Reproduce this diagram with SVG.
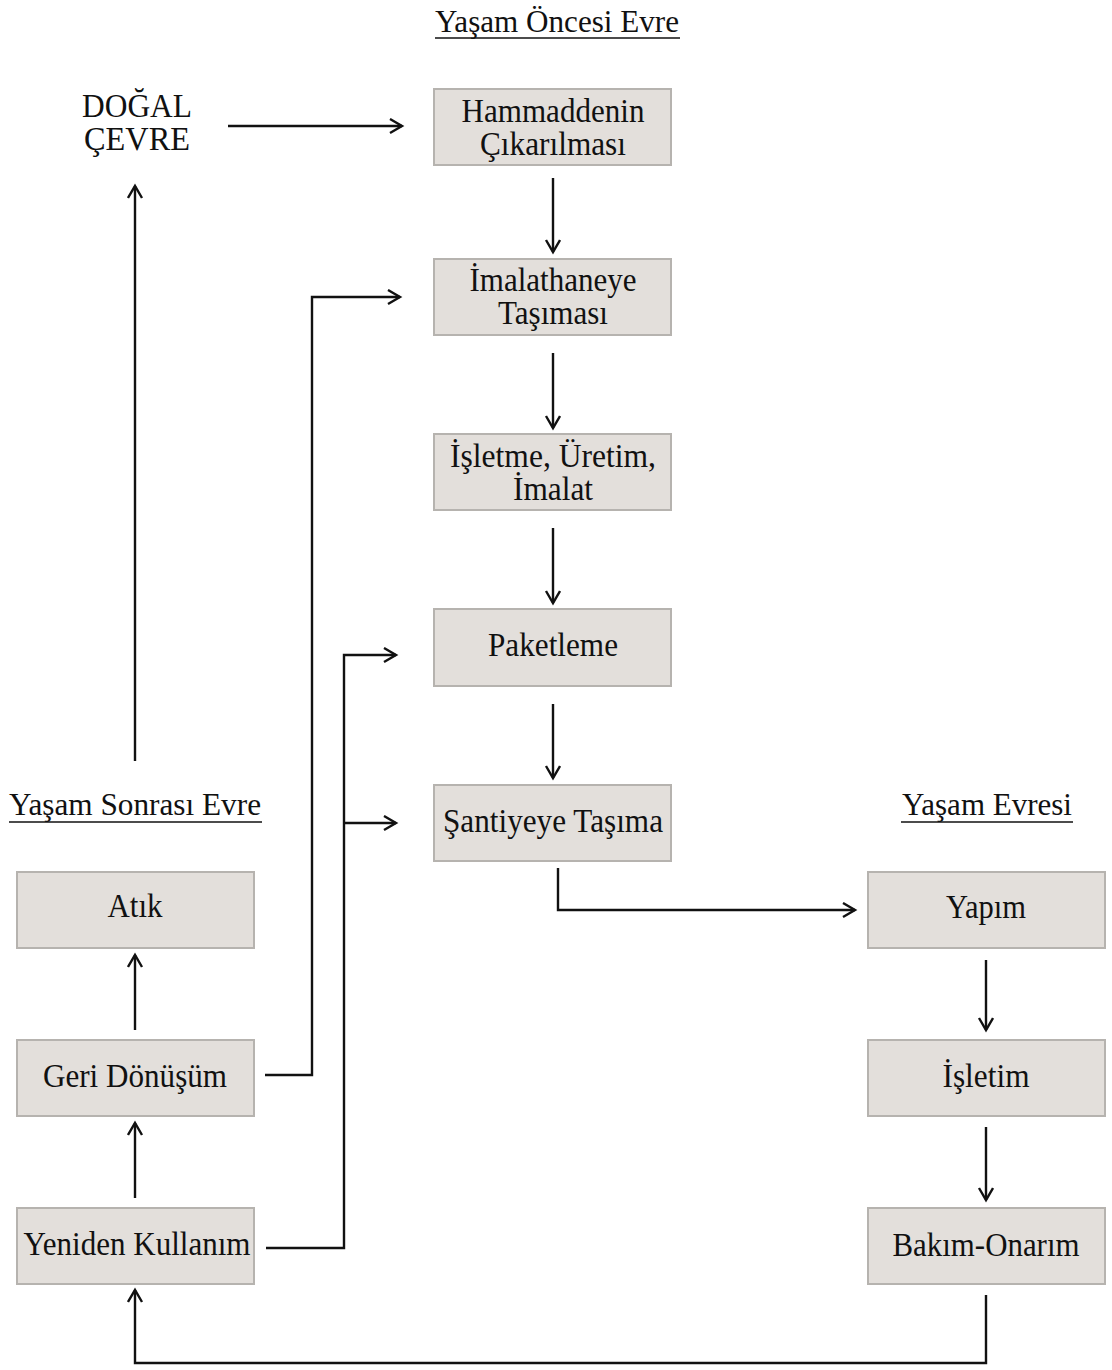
<svg xmlns="http://www.w3.org/2000/svg" width="1112" height="1370" viewBox="0 0 1112 1370">
<style>
.box{fill:#e3dfdb;stroke:#b6b3af;stroke-width:2}
.t{font-family:"Liberation Serif","Times New Roman",serif;font-size:34px;fill:#111;text-anchor:middle}
.h{font-family:"Liberation Serif","Times New Roman",serif;font-size:31px;fill:#111;text-anchor:middle}
.ul{stroke:#111;stroke-width:1.6}
.c{fill:none;stroke:#111;stroke-width:2.4}
</style>
<defs>
<marker id="a" markerUnits="userSpaceOnUse" markerWidth="20" markerHeight="20" refX="13" refY="8" orient="auto">
<path d="M1,1 L13,8 L1,15" fill="none" stroke="#111" stroke-width="2.4"/>
</marker>
</defs>
<rect width="1112" height="1370" fill="#fff"/>
<g id="titles">
<text class="h" x="557" y="32" textLength="244" lengthAdjust="spacingAndGlyphs">Yaşam Öncesi Evre</text>
<line class="ul" x1="435" y1="38" x2="680" y2="38"/>
<text class="h" x="135" y="815" textLength="252" lengthAdjust="spacingAndGlyphs">Yaşam Sonrası Evre</text>
<line class="ul" x1="9" y1="822" x2="262" y2="822"/>
<text class="h" x="987" y="815" textLength="170" lengthAdjust="spacingAndGlyphs">Yaşam Evresi</text>
<line class="ul" x1="901" y1="822" x2="1073" y2="822"/>
</g>
<g id="dogal-cevre">
<text class="t" x="137" y="117" textLength="110" lengthAdjust="spacingAndGlyphs">DOĞAL</text>
<text class="t" x="137" y="150" textLength="106" lengthAdjust="spacingAndGlyphs">ÇEVRE</text>
</g>
<g id="n1"><rect class="box" x="434" y="89" width="237" height="76"/>
<text class="t" x="553" y="122" textLength="183" lengthAdjust="spacingAndGlyphs">Hammaddenin</text>
<text class="t" x="553" y="155" textLength="146" lengthAdjust="spacingAndGlyphs">Çıkarılması</text></g>
<g id="n2"><rect class="box" x="434" y="259" width="237" height="76"/>
<text class="t" x="553" y="291" textLength="167" lengthAdjust="spacingAndGlyphs">İmalathaneye</text>
<text class="t" x="553" y="324" textLength="110" lengthAdjust="spacingAndGlyphs">Taşıması</text></g>
<g id="n3"><rect class="box" x="434" y="434" width="237" height="76"/>
<text class="t" x="553" y="467" textLength="206" lengthAdjust="spacingAndGlyphs">İşletme, Üretim,</text>
<text class="t" x="553" y="500" textLength="80" lengthAdjust="spacingAndGlyphs">İmalat</text></g>
<g id="n4"><rect class="box" x="434" y="609" width="237" height="77"/>
<text class="t" x="553" y="656" textLength="130" lengthAdjust="spacingAndGlyphs">Paketleme</text></g>
<g id="n5"><rect class="box" x="434" y="785" width="237" height="76"/>
<text class="t" x="553" y="832" textLength="220" lengthAdjust="spacingAndGlyphs">Şantiyeye Taşıma</text></g>
<g id="atik"><rect class="box" x="17" y="872" width="237" height="76"/>
<text class="t" x="135" y="917" textLength="55" lengthAdjust="spacingAndGlyphs">Atık</text></g>
<g id="geri"><rect class="box" x="17" y="1040" width="237" height="76"/>
<text class="t" x="135" y="1087" textLength="184" lengthAdjust="spacingAndGlyphs">Geri Dönüşüm</text></g>
<g id="yeniden"><rect class="box" x="17" y="1208" width="237" height="76"/>
<text class="t" x="137" y="1255" textLength="227" lengthAdjust="spacingAndGlyphs">Yeniden Kullanım</text></g>
<g id="yapim"><rect class="box" x="868" y="872" width="237" height="76"/>
<text class="t" x="986" y="918" textLength="80" lengthAdjust="spacingAndGlyphs">Yapım</text></g>
<g id="isletim"><rect class="box" x="868" y="1040" width="237" height="76"/>
<text class="t" x="986" y="1087" textLength="87" lengthAdjust="spacingAndGlyphs">İşletim</text></g>
<g id="bakim"><rect class="box" x="868" y="1208" width="237" height="76"/>
<text class="t" x="986" y="1256" textLength="187" lengthAdjust="spacingAndGlyphs">Bakım-Onarım</text></g>
<g id="connectors">
<line class="c" x1="228" y1="126" x2="402" y2="126" marker-end="url(#a)"/>
<line class="c" x1="553" y1="178" x2="553" y2="252" marker-end="url(#a)"/>
<line class="c" x1="553" y1="353" x2="553" y2="428" marker-end="url(#a)"/>
<line class="c" x1="553" y1="528" x2="553" y2="603" marker-end="url(#a)"/>
<line class="c" x1="553" y1="704" x2="553" y2="778" marker-end="url(#a)"/>
<line class="c" x1="135" y1="761" x2="135" y2="186" marker-end="url(#a)"/>
<line class="c" x1="135" y1="1030" x2="135" y2="955" marker-end="url(#a)"/>
<line class="c" x1="135" y1="1198" x2="135" y2="1123" marker-end="url(#a)"/>
<polyline class="c" points="265,1075 312,1075 312,297 400,297" marker-end="url(#a)"/>
<polyline class="c" points="266,1248 344,1248 344,655 396,655" marker-end="url(#a)"/>
<line class="c" x1="344" y1="823" x2="396" y2="823" marker-end="url(#a)"/>
<polyline class="c" points="558,868 558,910 855,910" marker-end="url(#a)"/>
<line class="c" x1="986" y1="960" x2="986" y2="1030" marker-end="url(#a)"/>
<line class="c" x1="986" y1="1127" x2="986" y2="1200" marker-end="url(#a)"/>
<polyline class="c" points="986,1295 986,1363 135,1363 135,1290" marker-end="url(#a)"/>
</g>
</svg>
